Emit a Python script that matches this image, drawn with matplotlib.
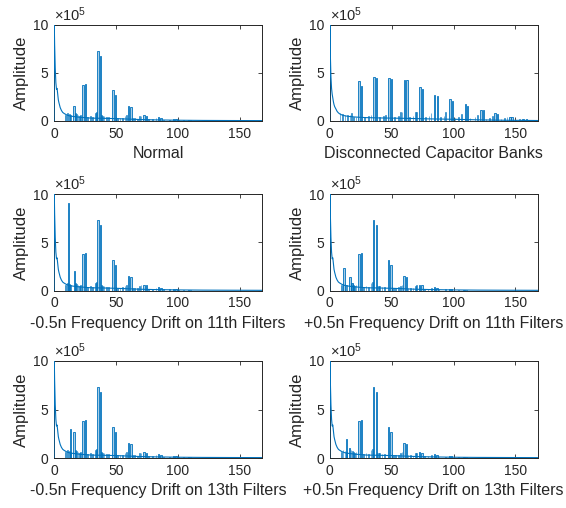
import numpy as np
import matplotlib
matplotlib.use("Agg")
import matplotlib.pyplot as plt

plt.rcParams['font.family'] = ['Liberation Sans', 'DejaVu Sans']
plt.rcParams['mathtext.fontset'] = 'custom'
plt.rcParams['mathtext.rm'] = 'Liberation Sans'
plt.rcParams['mathtext.it'] = 'Liberation Sans'

# ---------------- data (amplitudes in units of 1e5) ----------------
titles = ["Normal", "Disconnected Capacitor Banks",
          "-0.5n Frequency Drift on 11th Filters", "+0.5n Frequency Drift on 11th Filters",
          "-0.5n Frequency Drift on 13th Filters", "+0.5n Frequency Drift on 13th Filters"]

# decaying low-frequency floor
base_f = [0, 0.2, 0.5, 1.0, 1.5, 2.0, 2.5, 3.0, 3.5, 4.0, 5, 6, 7, 8, 10, 12, 15, 20,
          25, 30, 40, 50, 60, 70, 80, 90, 100, 120, 140, 168]
base_a = [0, 10.3, 8.0, 5.5, 4.0, 3.3, 3.4, 2.8, 2.2, 1.9, 1.4, 1.1, 0.9, 0.8, 0.65, 0.55,
          0.48, 0.4, 0.35, 0.3, 0.28, 0.25, 0.2, 0.15, 0.12, 0.1, 0.08, 0.06, 0.05, 0.04]
base2_a = [0, 10.3, 7.0, 4.6, 3.4, 2.8, 2.4, 2.0, 1.7, 1.5, 1.25, 1.0, 0.85, 0.75, 0.62, 0.55,
           0.48, 0.42, 0.38, 0.35, 0.32, 0.3, 0.28, 0.25, 0.22, 0.2, 0.18, 0.12, 0.08, 0.05]

# small noise-floor spikes
floor_f = [9, 10.5, 12, 13, 17, 18, 19, 20, 21, 27, 29, 31, 33, 34, 38, 39, 40, 42, 44,
           51, 53, 55, 57, 58, 63, 65, 67, 69, 70, 76, 79, 82, 88, 93, 100, 104, 110]
floor_a = [0.6, 0.8, 0.7, 0.6, 0.8, 0.7, 0.6, 0.5, 0.6, 0.4, 0.5, 0.4, 0.8, 0.9, 0.6, 0.5,
           0.5, 0.4, 0.4, 0.3, 0.3, 0.35, 0.5, 0.6, 0.3, 0.3, 0.25, 0.5, 0.55, 0.2, 0.2,
           0.3, 0.15, 0.15, 0.12, 0.1, 0.08]
floor2_f = [8, 10, 12, 14, 16, 17.5, 19, 21, 28, 31, 33, 40, 43, 45, 52, 55, 57, 58, 64, 67,
            69, 70, 77, 80, 81.5, 89, 92, 93.5, 101, 104, 106, 113, 117, 119, 126, 129, 131,
            138, 141, 143, 150, 153]
floor2_a = [0.8, 0.7, 0.6, 0.6, 0.6, 0.8, 0.4, 0.4, 0.4, 0.5, 0.6, 0.4, 0.5, 0.6, 0.4, 0.5,
            0.9, 0.95, 0.4, 0.5, 0.9, 0.95, 0.4, 0.5, 0.85, 0.4, 0.5, 0.9, 0.3, 0.4, 0.7,
            0.3, 0.4, 0.65, 0.25, 0.3, 0.5, 0.2, 0.3, 0.4, 0.15, 0.2]

# harmonic peaks
normal_f = [15.5, 23, 25, 35, 37, 47, 49, 59.5, 61.5, 72, 74, 84, 86, 96, 98, 108]
normal_a = [1.6, 3.8, 3.9, 7.3, 6.8, 3.2, 2.7, 1.55, 1.45, 0.6, 0.55, 0.4, 0.3, 0.2, 0.2, 0.1]

disc_f = [23, 25, 35.2, 37.3, 47.4, 49.6, 60, 62, 72.3, 74.2, 84.3, 86.7, 96.5, 98.4,
          109, 111, 121.6, 123.5, 133, 135, 145, 146.7, 155.7, 158.4]
disc_a = [4.15, 3.6, 4.55, 4.45, 4.45, 4.4, 4.3, 4.3, 3.57, 3.33, 2.7, 2.65, 2.3, 2.1,
          1.74, 1.6, 1.15, 1.15, 0.8, 0.75, 0.45, 0.45, 0.2, 0.2]

m11_f = [11, 16]
m11_a = [9.1, 2.0]
p11_f = [11, 15.8, 17.5]
p11_a = [2.3, 1.45, 0.8]
m13_f = [13, 15.7]
m13_a = [2.96, 2.65]
p13_f = [12.8, 15.5]
p13_a = [1.96, 1.0]

# ---------------- figure ----------------
blue = '#0072BD'
dark = '#262626'
fig = plt.figure(figsize=(5.66, 5.08), dpi=100)

lefts = [54 / 566, 329.7 / 566]
width = 208 / 566
rows = [(1 - 121 / 508, 96 / 508), (1 - 290.7 / 508, 96.7 / 508), (1 - 458 / 508, 97 / 508)]

panels = [
    (base_a, floor_f, floor_a, normal_f, normal_a),
    (base2_a, floor2_f, floor2_a, disc_f, disc_a),
    (base_a, floor_f, floor_a, normal_f[1:] + m11_f, normal_a[1:] + m11_a),
    (base_a, floor_f, floor_a, normal_f[1:] + p11_f, normal_a[1:] + p11_a),
    (base_a, floor_f, floor_a, normal_f[1:] + m13_f, normal_a[1:] + m13_a),
    (base_a, floor_f, floor_a, normal_f[1:] + p13_f, normal_a[1:] + p13_a),
]

for i, (ba, ff, fa, pf, pa) in enumerate(panels):
    r, c = divmod(i, 2)
    b, h = rows[r]
    ax = fig.add_axes([lefts[c], b, width, h])
    ax.plot(base_f, ba, color=blue, lw=0.8, zorder=3, clip_on=True)
    ax.bar(ff, fa, width=0.6, align='edge', color=blue, alpha=0.8, lw=0.5,
           edgecolor=blue, zorder=2)
    ax.bar(pf, pa, width=1.1, align='edge', facecolor=(0, 0.447, 0.741, 0.35),
           edgecolor=blue, lw=0.6, zorder=2)
    ax.set_xlim(0, 168)
    ax.set_ylim(0, 10)
    ax.set_xticks([0, 50, 100, 150])
    ax.set_yticks([0, 5, 10])
    ax.tick_params(direction='in', length=3, width=0.6, colors=dark, labelsize=10,
                   top=True, right=True, pad=4)
    for s in ax.spines.values():
        s.set_color(dark)
        s.set_linewidth(0.7)
    ax.set_xlabel(titles[i], fontsize=11.5, color=dark, labelpad=4)
    ax.set_ylabel("Amplitude", fontsize=12, color=dark, labelpad=3)
    ax.text(0.0, 1.015, r'$\times\mathregular{10^{5}}$', transform=ax.transAxes,
            ha='left', va='bottom', fontsize=10.5, color=dark)

fig.savefig("out.png", dpi=100)
